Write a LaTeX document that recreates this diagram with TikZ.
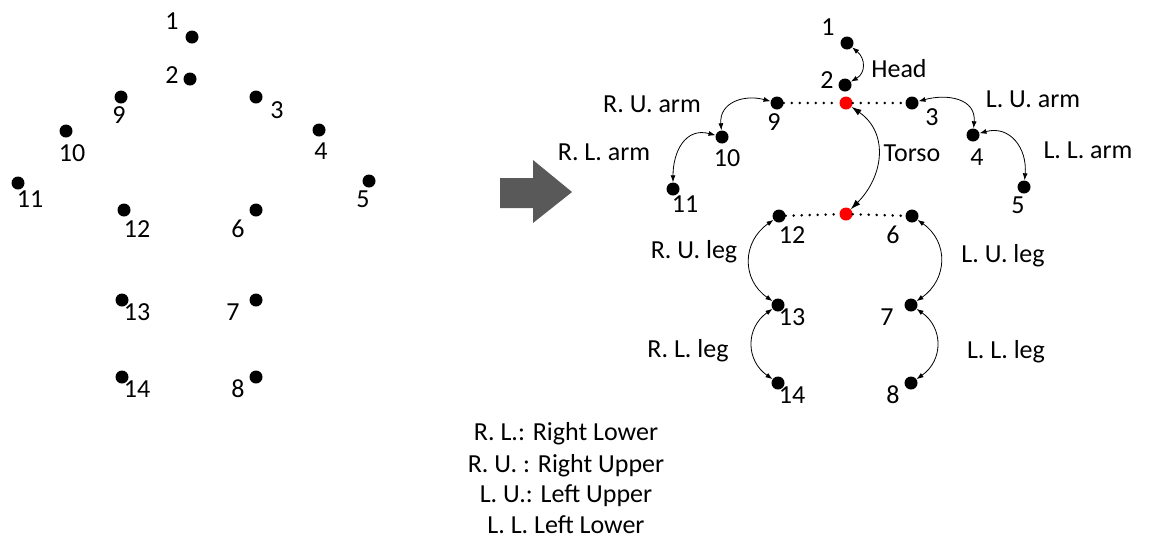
\documentclass[tikz,border=0pt]{standalone}
\usepackage{fontspec}
\setmainfont{Carlito}
\usetikzlibrary{arrows.meta}
\begin{document}
\begin{tikzpicture}[x=1pt,y=1pt,
  jd/.style={circle,fill=black,inner sep=0pt,minimum size=13pt},
  jred/.style={jd,fill=red},
  txt/.style={font=\fontsize{26}{31}\selectfont,inner sep=0pt,text depth=0pt},
  limb/.style={line width=0.8pt,{Latex[length=7pt,width=5pt]}-{Latex[length=7pt,width=5pt]},looseness=1.25},
  torso/.style={line width=0.8pt,{Latex[length=10pt,width=6.5pt]}-{Latex[length=10pt,width=6.5pt]}},
  bone/.style={line width=2.8pt,dash pattern=on 0pt off 8pt,line cap=round},
]
\useasboundingbox (0,0) rectangle (1158,-542);

% ---- joints before grouping ----
\node[jd] (a1)  at (192,-37) {};
\node[jd] (a2)  at (190,-79) {};
\node[jd] (a9)  at (121,-97) {};
\node[jd] (a3)  at (256,-97) {};
\node[jd] (a10) at (66,-131) {};
\node[jd] (a4)  at (319,-130) {};
\node[jd] (a11) at (18,-183) {};
\node[jd] (a5)  at (369,-181) {};
\node[jd] (a12) at (124,-210) {};
\node[jd] (a6)  at (256,-210) {};
\node[jd] (a13) at (122,-300) {};
\node[jd] (a7)  at (256,-300) {};
\node[jd] (a14) at (122,-377) {};
\node[jd] (a8)  at (256,-377) {};

\node[txt] (la1)  at (172,-21)  {1};
\node[txt] (la2)  at (172,-75)  {2};
\node[txt] (la9)  at (119,-115) {9};
\node[txt] (la3)  at (277,-110) {3};
\node[txt] (la10) at (72,-153)  {10};
\node[txt] (la4)  at (321,-151) {4};
\node[txt] (la11) at (30,-199)  {11};
\node[txt] (la5)  at (363,-199) {5};
\node[txt] (la12) at (137,-229) {12};
\node[txt] (la6)  at (238,-229) {6};
\node[txt] (la13) at (137,-312) {13};
\node[txt] (la7)  at (233,-312) {7};
\node[txt] (la14) at (137,-389) {14};
\node[txt] (la8)  at (238,-389) {8};

% ---- block arrow ----
\fill[fill=black!65] (500,-178) -- (533,-178) -- (533,-160) -- (572,-192)
  -- (533,-223) -- (533,-208) -- (500,-208) -- cycle;

% ---- grouped skeleton ----
\node[jd] (b1)  at (847,-43)  {};
\node[jd] (b2)  at (845,-85)  {};
\node[jred] (rt) at (846,-103) {};
\node[jd] (b9)  at (777,-103) {};
\node[jd] (b3)  at (912,-103) {};
\node[jd] (b10) at (722,-137) {};
\node[jd] (b4)  at (973,-135) {};
\node[jd] (b11) at (673,-189) {};
\node[jd] (b5)  at (1024,-187) {};
\node[jd] (b12) at (779,-216) {};
\node[jred] (rb) at (846,-214) {};
\node[jd] (b6)  at (912,-216) {};
\node[jd] (b13) at (778,-305) {};
\node[jd] (b7)  at (911,-305) {};
\node[jd] (b14) at (778,-383) {};
\node[jd] (b8)  at (911,-383) {};

\node[txt] (lb1)  at (828,-27)  {1};
\node[txt] (lb2)  at (827,-80)  {2};
\node[txt] (lb9)  at (774,-122) {9};
\node[txt] (lb3)  at (932,-117) {3};
\node[txt] (lb10) at (727,-158) {10};
\node[txt] (lb4)  at (977,-157) {4};
\node[txt] (lb11) at (685,-204) {11};
\node[txt] (lb5)  at (1018,-205) {5};
\node[txt] (lb12) at (792,-235) {12};
\node[txt] (lb6)  at (893,-235) {6};
\node[txt] (lb13) at (792,-317) {13};
\node[txt] (lb7)  at (887,-317) {7};
\node[txt] (lb14) at (792,-395) {14};
\node[txt] (lb8)  at (893,-395) {8};

% shoulder and hip lines
\draw[bone] (b9) -- (rt) -- (b3);
\draw[bone] (b12) -- (rb) -- (b6);

% limb arcs
\draw[limb,looseness=1.3] (b1) to[out=-40,in=30] (b2);
\draw[torso,looseness=1.15] (rt) to[out=-35,in=45] (rb);
\draw[limb] (b9)  to[out=165,in=95] (b10);
\draw[limb] (b10) to[out=165,in=90] (b11);
\draw[limb] (b3)  to[out=15,in=85]  (b4);
\draw[limb] (b4)  to[out=15,in=85]  (b5);
\draw[limb,looseness=1.2] (b12) to[out=215,in=145] (b13);
\draw[limb,looseness=1.2] (b13) to[out=215,in=145] (b14);
\draw[limb,looseness=1.2] (b6)  to[out=-35,in=35]  (b7);
\draw[limb,looseness=1.2] (b7)  to[out=-35,in=35]  (b8);

% part names
\node[txt] (head)  at (899,-68)   {Head};
\node[txt] (torsol) at (912,-153) {Torso};
\node[txt] (rua)   at (652,-104)  {R. U. arm};
\node[txt] (rla)   at (604,-152)  {R. L. arm};
\node[txt] (lua)   at (1033,-99)  {L. U. arm};
\node[txt] (lla)   at (1088,-150) {L. L. arm};
\node[txt] (rul)   at (694,-249)  {R. U. leg};
\node[txt] (rll)   at (688,-348)  {R. L. leg};
\node[txt] (lul)   at (1003,-253) {L. U. leg};
\node[txt] (lll)   at (1006,-349) {L. L. leg};

% abbreviations
\node[txt] (k1) at (566,-431) {R. L.: Right Lower};
\node[txt] (k2) at (566,-463) {R. U. : Right Upper};
\node[txt] (k3) at (566,-494) {L. U.: Left Upper};
\node[txt] (k4) at (566,-525) {L. L. Left Lower};
\end{tikzpicture}
\end{document}
